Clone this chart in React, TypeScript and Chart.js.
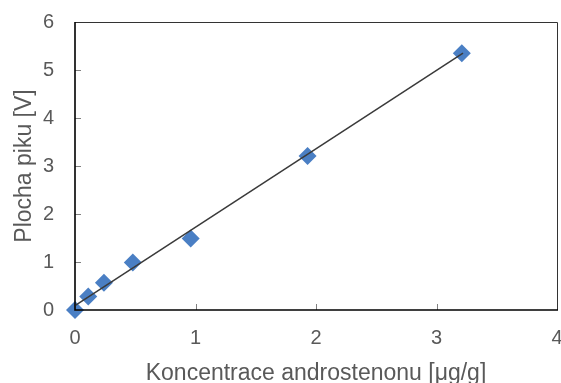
import React, { useEffect, useRef } from "react";
import { Chart, registerables } from "chart.js";

Chart.register(...registerables);

const concentrations = [0, 0.11, 0.24, 0.48, 0.96, 1.93, 3.21];
const peakAreas = [0, 0.28, 0.57, 0.99, 1.49, 3.21, 5.35];
const trendX = [0, 3.22];
const trendY = [0.09, 5.35];
const xTicks = [0, 1, 2, 3, 4];
const yTicks = [0, 1, 2, 3, 4, 5, 6];
const xTitle = "Koncentrace androstenonu [μg/g]";
const yTitle = "Plocha piku [V]";

const FONT = "'Liberation Sans', Arial, sans-serif";
const TEXT = "#595959";

const framePlugin = {
  id: "frame",
  afterDatasetsDraw(chart: any) {
    const { ctx, chartArea } = chart;
    const { left, right, top, bottom } = chartArea;
    const xs = chart.scales.x;
    const ys = chart.scales.y;
    ctx.save();
    ctx.strokeStyle = "#808080";
    ctx.lineWidth = 1;
    ctx.beginPath();
    xTicks.forEach((v) => {
      const px = Math.round(xs.getPixelForValue(v)) + 0.5;
      ctx.moveTo(px, bottom);
      ctx.lineTo(px, bottom - 6);
    });
    yTicks.forEach((v) => {
      const py = Math.round(ys.getPixelForValue(v)) + 0.5;
      ctx.moveTo(left, py);
      ctx.lineTo(left + 6, py);
    });
    ctx.stroke();
    ctx.strokeStyle = "#333333";
    ctx.lineWidth = 1;
    ctx.beginPath();
    ctx.moveTo(left, top + 0.5);
    ctx.lineTo(right + 0.5, top + 0.5);
    ctx.lineTo(right + 0.5, bottom);
    ctx.stroke();
    ctx.strokeStyle = "#000000";
    ctx.lineWidth = 1.6;
    ctx.beginPath();
    ctx.moveTo(left, top);
    ctx.lineTo(left, bottom);
    ctx.lineTo(right + 1, bottom);
    ctx.stroke();
    ctx.restore();
  },
};

export default function App() {
  const ref = useRef<HTMLCanvasElement | null>(null);
  useEffect(() => {
    if (!ref.current) return;
    const chart = new Chart(ref.current, {
      type: "scatter",
      data: {
        datasets: [
          {
            label: "trend",
            type: "line",
            data: trendX.map((x, i) => ({ x, y: trendY[i] })),
            borderColor: "#3a3a3a",
            borderWidth: 1.5,
            pointRadius: 0,
            fill: false,
            order: 0,
            clip: false,
          },
          {
            label: "data",
            data: concentrations.map((x, i) => ({ x, y: peakAreas[i] })),
            pointStyle: "rectRot",
            pointRadius: 9,
            pointBackgroundColor: "#4a7fc4",
            pointBorderWidth: 0,
            borderWidth: 0,
            order: 1,
            clip: false,
          },
        ],
      },
      options: {
        animation: false,
        responsive: false,
        maintainAspectRatio: false,
        layout: { autoPadding: false, padding: { top: 22, right: 4, left: 0, bottom: 0 } },
        plugins: {
          legend: { display: false },
          tooltip: { enabled: false },
        },
        scales: {
          x: {
            type: "linear",
            min: 0,
            max: 4,
            grid: { display: false, drawTicks: false },
            border: { display: false },
            afterBuildTicks: (s: any) => {
              s.ticks = xTicks.map((v) => ({ value: v }));
            },
            ticks: {
              padding: 16,
              color: TEXT,
              font: { family: FONT, size: 20 },
              maxRotation: 0,
            },
            title: {
              display: true,
              text: xTitle,
              color: TEXT,
              font: { family: FONT, size: 23 },
              padding: { top: 0, bottom: -4 },
            },
            afterFit: (s: any) => {
              s.height = 73;
              s.paddingLeft = 0;
              s.paddingRight = 0;
            },
          },
          y: {
            type: "linear",
            min: 0,
            max: 6,
            grid: { display: false, drawTicks: false },
            border: { display: false },
            afterBuildTicks: (s: any) => {
              s.ticks = yTicks.map((v) => ({ value: v }));
            },
            ticks: {
              padding: 21,
              color: TEXT,
              font: { family: FONT, size: 20 },
            },
            title: {
              display: true,
              text: yTitle,
              color: TEXT,
              font: { family: FONT, size: 23 },
              padding: { top: 11, bottom: 0 },
            },
            afterFit: (s: any) => {
              s.width = 75;
              s.paddingTop = 0;
              s.paddingBottom = 0;
            },
          },
        },
      },
      plugins: [framePlugin],
    });
    return () => chart.destroy();
  }, []);
  return (
    <div style={{ position: "absolute", left: 0, top: 0, width: 561, height: 383, background: "#fff" }}>
      <canvas ref={ref} width={561} height={383} style={{ display: "block", width: 561, height: 383 }} />
    </div>
  );
}
